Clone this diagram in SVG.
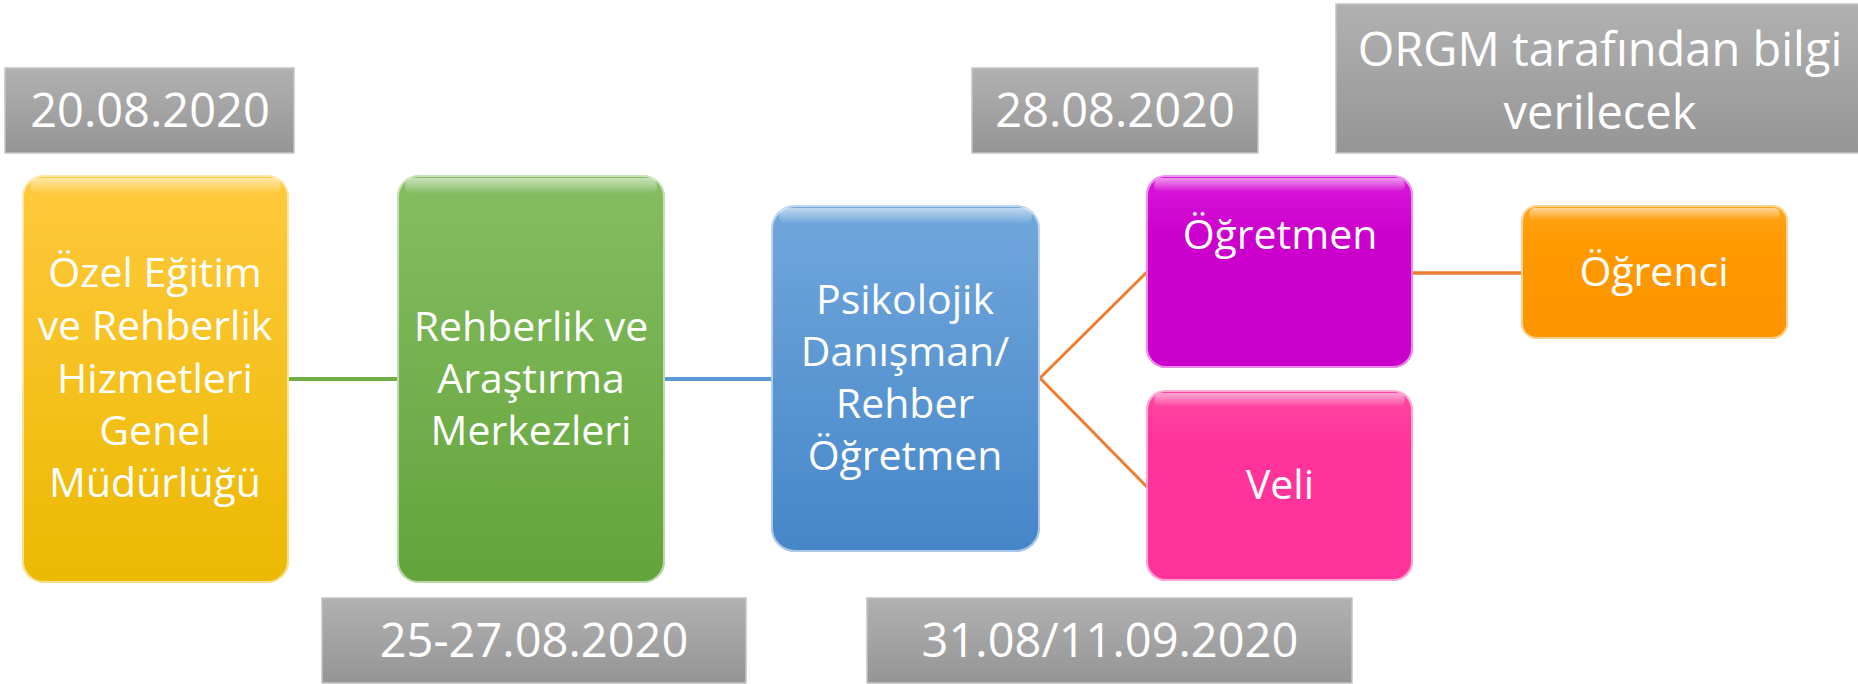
<svg xmlns="http://www.w3.org/2000/svg" width="1858" height="684" viewBox="0 0 1858 684">
<defs>
<linearGradient id="gGray" x1="0" y1="0" x2="0" y2="1"><stop offset="0" stop-color="#b1b1b1"/><stop offset="1" stop-color="#959595"/></linearGradient>
<linearGradient id="gYellow" x1="0" y1="0" x2="0" y2="1"><stop offset="0" stop-color="#ffc93d"/><stop offset="1" stop-color="#ebb900"/></linearGradient>
<linearGradient id="gGreen" x1="0" y1="0" x2="0" y2="1"><stop offset="0" stop-color="#86bd62"/><stop offset="1" stop-color="#62a43a"/></linearGradient>
<linearGradient id="gBlue" x1="0" y1="0" x2="0" y2="1"><stop offset="0" stop-color="#71a7dc"/><stop offset="1" stop-color="#4586c9"/></linearGradient>
<linearGradient id="gMag" x1="0" y1="0" x2="0" y2="1"><stop offset="0" stop-color="#d91ad9"/><stop offset="0.3" stop-color="#cc00cc"/><stop offset="1" stop-color="#cc00cc"/></linearGradient>
<linearGradient id="gPink" x1="0" y1="0" x2="0" y2="1"><stop offset="0" stop-color="#ff45a2"/><stop offset="0.3" stop-color="#ff3399"/><stop offset="1" stop-color="#ff3399"/></linearGradient>
<linearGradient id="gOrange" x1="0" y1="0" x2="0" y2="1"><stop offset="0" stop-color="#ffa41a"/><stop offset="0.3" stop-color="#ff9900"/><stop offset="1" stop-color="#fb9500"/></linearGradient>
<linearGradient id="gGloss" x1="0" y1="0" x2="0" y2="1"><stop offset="0" stop-color="#ffffff" stop-opacity="0.55"/><stop offset="1" stop-color="#ffffff" stop-opacity="0"/></linearGradient>
</defs>
<style>
.gray{fill:url(#gGray);stroke:#c4c4c4;stroke-width:1.5}
.gt{font-family:"Open Sans","Liberation Sans",sans-serif;font-size:47px;fill:#ffffff;text-anchor:middle}
.nt{font-family:"Open Sans","Liberation Sans",sans-serif;font-size:41px;fill:#ffffff;text-anchor:middle}
.edge{stroke:#ffffff;stroke-opacity:0.55;stroke-width:2;fill:none}
.gloss{fill:url(#gGloss)}
.c{fill:none}
</style>
<rect width="1858" height="684" fill="#ffffff"/>

<g id="connectors">
<line class="c" x1="288" y1="379" x2="398" y2="379" stroke="#70ad47" stroke-width="4"/>
<line class="c" x1="664" y1="379" x2="772" y2="379" stroke="#5b9bd5" stroke-width="4"/>
<polyline class="c" points="1147,272 1040,378 1147,487" stroke="#ed7d31" stroke-width="3"/>
<line class="c" x1="1412" y1="273" x2="1522" y2="273" stroke="#ed7d31" stroke-width="3.5"/>
</g>

<g id="date1">
<rect class="gray" x="5" y="68" width="289" height="85"/>
<text class="gt" x="150" y="127">20.08.2020</text>
</g>
<g id="date2">
<rect class="gray" x="972" y="68" width="286" height="85"/>
<text class="gt" x="1115" y="127">28.08.2020</text>
</g>
<g id="date3">
<rect class="gray" x="1336" y="4" width="526" height="149"/>
<text class="gt" x="1600" y="66">ORGM tarafından bilgi</text>
<text class="gt" x="1600" y="129">verilecek</text>
</g>
<g id="date4">
<rect class="gray" x="322" y="598" width="424" height="85"/>
<text class="gt" x="534" y="657">25-27.08.2020</text>
</g>
<g id="date5">
<rect class="gray" x="867" y="598" width="485" height="85"/>
<text class="gt" x="1110" y="657">31.08/11.09.2020</text>
</g>

<g id="node-genel">
<rect x="22" y="175" width="267" height="408" rx="22" fill="url(#gYellow)"/>
<rect class="gloss" x="30" y="178" width="251" height="16" rx="8"/>
<rect class="edge" x="23" y="176" width="265" height="406" rx="21"/>
<text class="nt" x="155" y="287">Özel Eğitim</text>
<text class="nt" x="155" y="340">ve Rehberlik</text>
<text class="nt" x="155" y="393">Hizmetleri</text>
<text class="nt" x="155" y="445">Genel</text>
<text class="nt" x="155" y="497">Müdürlüğü</text>
</g>

<g id="node-ram">
<rect x="397" y="175" width="268" height="408" rx="22" fill="url(#gGreen)"/>
<rect class="gloss" x="405" y="178" width="252" height="16" rx="8"/>
<rect class="edge" x="398" y="176" width="266" height="406" rx="21"/>
<text class="nt" x="531" y="341">Rehberlik ve</text>
<text class="nt" x="531" y="393">Araştırma</text>
<text class="nt" x="531" y="445">Merkezleri</text>
</g>

<g id="node-pdr">
<rect x="771" y="205" width="269" height="347" rx="24" fill="url(#gBlue)"/>
<rect class="gloss" x="779" y="208" width="253" height="16" rx="8"/>
<rect class="edge" x="772" y="206" width="267" height="345" rx="23"/>
<text class="nt" x="905" y="314">Psikolojik</text>
<text class="nt" x="905" y="366">Danışman/</text>
<text class="nt" x="905" y="418">Rehber</text>
<text class="nt" x="905" y="470">Öğretmen</text>
</g>

<g id="node-ogretmen">
<rect x="1146" y="175" width="267" height="193" rx="20" fill="url(#gMag)"/>
<rect class="gloss" x="1154" y="178" width="251" height="14" rx="7"/>
<rect class="edge" x="1147" y="176" width="265" height="191" rx="19"/>
<text class="nt" x="1280" y="249">Öğretmen</text>
</g>

<g id="node-veli">
<rect x="1146" y="390" width="267" height="191" rx="20" fill="url(#gPink)"/>
<rect class="gloss" x="1154" y="393" width="251" height="14" rx="7"/>
<rect class="edge" x="1147" y="391" width="265" height="189" rx="19"/>
<text class="nt" x="1280" y="499">Veli</text>
</g>

<g id="node-ogrenci">
<rect x="1521" y="205" width="267" height="134" rx="16" fill="url(#gOrange)"/>
<rect class="gloss" x="1529" y="208" width="251" height="12" rx="6"/>
<rect class="edge" x="1522" y="206" width="265" height="132" rx="15"/>
<text class="nt" x="1654" y="286">Öğrenci</text>
</g>
</svg>
